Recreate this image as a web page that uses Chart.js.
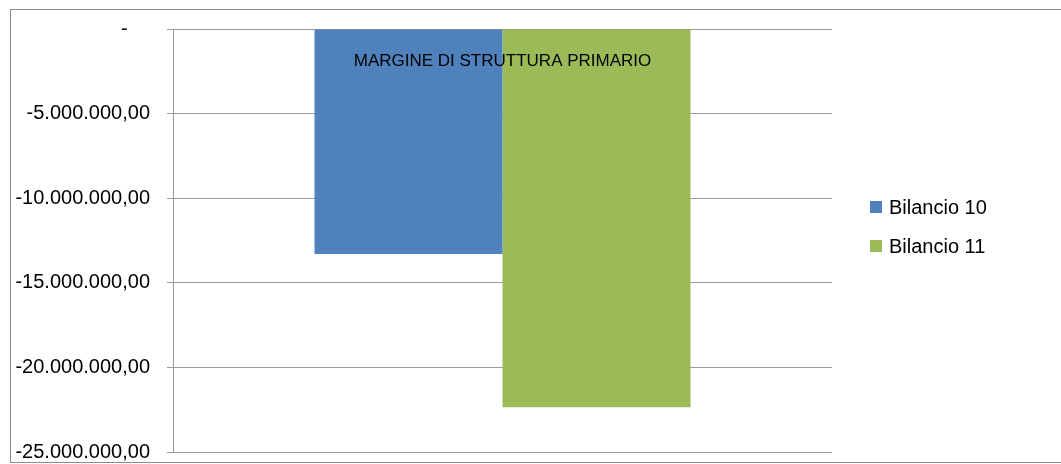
<!DOCTYPE html>
<html>
<head>
<meta charset="utf-8">
<script src="https://cdn.jsdelivr.net/npm/chart.js@4/dist/chart.umd.min.js"></script>
<style>
  html, body { margin: 0; padding: 0; background: #fff; }
  #wrap { width: 1061px; height: 464px; position: relative; }
</style>
</head>
<body>
<div id="wrap"><canvas id="chart"></canvas></div>
<script>
// data
const categories = ['MARGINE DI STRUTTURA PRIMARIO'];
const seriesNames = ['Bilancio 10', 'Bilancio 11'];
const bilancio10 = [-13300000];
const bilancio11 = [-22350000];
const seriesColors = ['#4F81BD', '#9BBB59'];
const yMin = -25000000;
const yMax = 0;
const yStep = 5000000;

const FONT = '"Liberation Sans", Arial, sans-serif';
const GRID = '#9a9a9a';

// 5000000 -> "5.000.000,00", 0 -> " -"
function formatEuro(v) {
  if (v === 0) return '-    ';
  const neg = v < 0;
  const parts = Math.abs(v).toFixed(2).split('.');
  const intPart = parts[0].replace(/\B(?=(\d{3})+(?!\d))/g, '.');
  return (neg ? '-' : '') + intPart + ',' + parts[1];
}

// outer chart frame
const framePlugin = {
  id: 'frame',
  beforeDraw(chart) {
    const ctx = chart.ctx;
    ctx.save();
    ctx.strokeStyle = '#8c8c8c';
    ctx.lineWidth = 1;
    ctx.strokeRect(10.5, 9.5, chart.width, 453);
    ctx.restore();
  }
};

// category label sits inside the plot, under the zero line
const categoryLabel = {
  id: 'categoryLabel',
  afterDatasetsDraw(chart) {
    const ctx = chart.ctx;
    const x = chart.scales.x;
    ctx.save();
    ctx.font = '17px ' + FONT;
    ctx.fillStyle = '#000';
    ctx.textAlign = 'center';
    ctx.textBaseline = 'middle';
    categories.forEach((c, i) => {
      ctx.fillText(c, x.getPixelForValue(i), chart.chartArea.top + 32);
    });
    ctx.restore();
  }
};

// legend on the right, drawn by hand to sit where the original does
const sideLegend = {
  id: 'sideLegend',
  afterDraw(chart) {
    const ctx = chart.ctx;
    ctx.save();
    ctx.font = '20px ' + FONT;
    ctx.textBaseline = 'middle';
    ctx.textAlign = 'left';
    chart.data.datasets.forEach((ds, i) => {
      const cy = 207 + i * 39;
      ctx.fillStyle = ds.backgroundColor;
      ctx.fillRect(870, cy - 6, 12, 12);
      ctx.fillStyle = '#000';
      ctx.fillText(ds.label, 889, cy + 1);
    });
    ctx.restore();
  }
};

new Chart(document.getElementById('chart'), {
  type: 'bar',
  data: {
    labels: categories,
    datasets: [
      { label: seriesNames[0], data: bilancio10, backgroundColor: seriesColors[0] },
      { label: seriesNames[1], data: bilancio11, backgroundColor: seriesColors[1] }
    ]
  },
  options: {
    responsive: true,
    maintainAspectRatio: false,
    animation: false,
    layout: { padding: { left: 10, right: 229, top: 29, bottom: 12 } },
    datasets: {
      bar: { categoryPercentage: 0.5706, barPercentage: 1 }
    },
    plugins: {
      legend: { display: false },
      tooltip: { enabled: false }
    },
    scales: {
      x: { display: false },
      y: {
        min: yMin,
        max: yMax,
        afterFit: s => { s.width = 163; s.paddingTop = 0; s.paddingBottom = 0; },
        ticks: {
          stepSize: yStep,
          padding: 17,
          color: '#000',
          font: { family: FONT, size: 20, lineHeight: 1 },
          callback: v => formatEuro(v)
        },
        grid: { color: GRID, tickLength: 6, drawTicks: true },
        border: { color: GRID }
      }
    }
  },
  plugins: [framePlugin, categoryLabel, sideLegend]
});
</script>
</body>
</html>
